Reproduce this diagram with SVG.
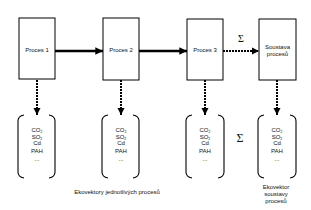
<svg xmlns="http://www.w3.org/2000/svg" width="311" height="210" viewBox="0 0 311 210">
<style>
.box{fill:#fff;stroke:#000;stroke-width:1}
.t{font-family:"Liberation Sans",Arial,sans-serif;font-size:6px;fill:#111;text-anchor:middle}
.s{font-family:"Liberation Sans",Arial,sans-serif;font-size:3.5px}
.sig{font-family:"Liberation Serif","Times New Roman",serif;fill:#111;text-anchor:middle}
.solid{stroke:#000;stroke-width:2.4;fill:none}
.dot{stroke:#000;stroke-width:2;stroke-dasharray:2 1;fill:none}
.br{stroke:#000;stroke-width:1.1;fill:none}
</style>
<defs>
<marker id="ah" viewBox="0 0 10 10" refX="10" refY="5" markerWidth="3.2" markerHeight="3.2" markerUnits="strokeWidth" orient="auto">
<path d="M0,0 L10,5 L0,10 z" fill="#000"/>
</marker>
<marker id="ahd" viewBox="0 0 10 10" refX="10" refY="5" markerWidth="3.6" markerHeight="3.6" markerUnits="strokeWidth" orient="auto">
<path d="M0,0 L10,5 L0,10 z" fill="#000"/>
</marker>
<g id="bracket">
<path class="br" d="M6 0 Q0 1 0 6 L0 57 Q0 62 6 63"/>
</g>
</defs>
<rect width="311" height="210" fill="#fff"/>

<g id="connectors">
<line class="solid" x1="55" y1="51" x2="103" y2="51" marker-end="url(#ah)"/>
<line class="solid" x1="139" y1="51" x2="187" y2="51" marker-end="url(#ah)"/>
<line class="dot" x1="223" y1="51" x2="259" y2="51" marker-end="url(#ahd)"/>
<line class="dot" x1="37" y1="80" x2="37" y2="115" marker-end="url(#ahd)"/>
<line class="dot" x1="121" y1="80" x2="121" y2="115" marker-end="url(#ahd)"/>
<line class="dot" x1="205" y1="80" x2="205" y2="115" marker-end="url(#ahd)"/>
<line class="dot" x1="277" y1="80" x2="277" y2="115" marker-end="url(#ahd)"/>
</g>

<g id="p1">
<rect class="box" x="19" y="18" width="36" height="61"/>
<text class="t" x="37" y="52">Proces 1</text>
</g>
<g id="p2">
<rect class="box" x="103" y="18" width="36" height="62"/>
<text class="t" x="121" y="52">Proces 2</text>
</g>
<g id="p3">
<rect class="box" x="187" y="19" width="36" height="61"/>
<text class="t" x="205" y="52">Proces 3</text>
</g>
<g id="p4">
<rect class="box" x="259" y="19" width="37" height="61"/>
<text class="t" x="277.5" y="49">Soustava</text>
<text class="t" x="277.5" y="55.5">procesů</text>
</g>

<g id="sigma1"><text class="sig" x="241" y="42" font-size="10">Σ</text></g>
<g id="sigma2"><text class="sig" x="240" y="142" font-size="12">Σ</text></g>

<g id="v1">
<use href="#bracket" x="18" y="115"/>
<use href="#bracket" transform="translate(55 115) scale(-1 1)"/>
<text class="t" x="37" y="132">CO<tspan class="s" dy="1">2</tspan></text>
<text class="t" x="37" y="138.5">SO<tspan class="s" dy="1">2</tspan></text>
<text class="t" x="37" y="145">Cd</text>
<text class="t" x="37" y="153">PAH</text>
<text class="t" x="37" y="161">...</text>
</g>
<g id="v2">
<use href="#bracket" x="102" y="115"/>
<use href="#bracket" transform="translate(139 115) scale(-1 1)"/>
<text class="t" x="121" y="132">CO<tspan class="s" dy="1">2</tspan></text>
<text class="t" x="121" y="138.5">SO<tspan class="s" dy="1">2</tspan></text>
<text class="t" x="121" y="145">Cd</text>
<text class="t" x="121" y="153">PAH</text>
<text class="t" x="121" y="161">...</text>
</g>
<g id="v3">
<use href="#bracket" x="186" y="115"/>
<use href="#bracket" transform="translate(224 115) scale(-1 1)"/>
<text class="t" x="205" y="132">CO<tspan class="s" dy="1">2</tspan></text>
<text class="t" x="205" y="138.5">SO<tspan class="s" dy="1">2</tspan></text>
<text class="t" x="205" y="145">Cd</text>
<text class="t" x="205" y="153">PAH</text>
<text class="t" x="205" y="161">...</text>
</g>
<g id="v4">
<use href="#bracket" x="258" y="115"/>
<use href="#bracket" transform="translate(296 115) scale(-1 1)"/>
<text class="t" x="277" y="132">CO<tspan class="s" dy="1">2</tspan></text>
<text class="t" x="277" y="138.5">SO<tspan class="s" dy="1">2</tspan></text>
<text class="t" x="277" y="145">Cd</text>
<text class="t" x="277" y="153">PAH</text>
<text class="t" x="277" y="161">...</text>
</g>

<g id="caption1">
<text class="t" x="117" y="194" font-size="5.6">Ekovektory jednotlivých procesů</text>
</g>
<g id="caption2">
<text class="t" x="276" y="188.5">Ekovektor</text>
<text class="t" x="276" y="195.5">soustavy</text>
<text class="t" x="276" y="202.5">procesů</text>
</g>
</svg>
